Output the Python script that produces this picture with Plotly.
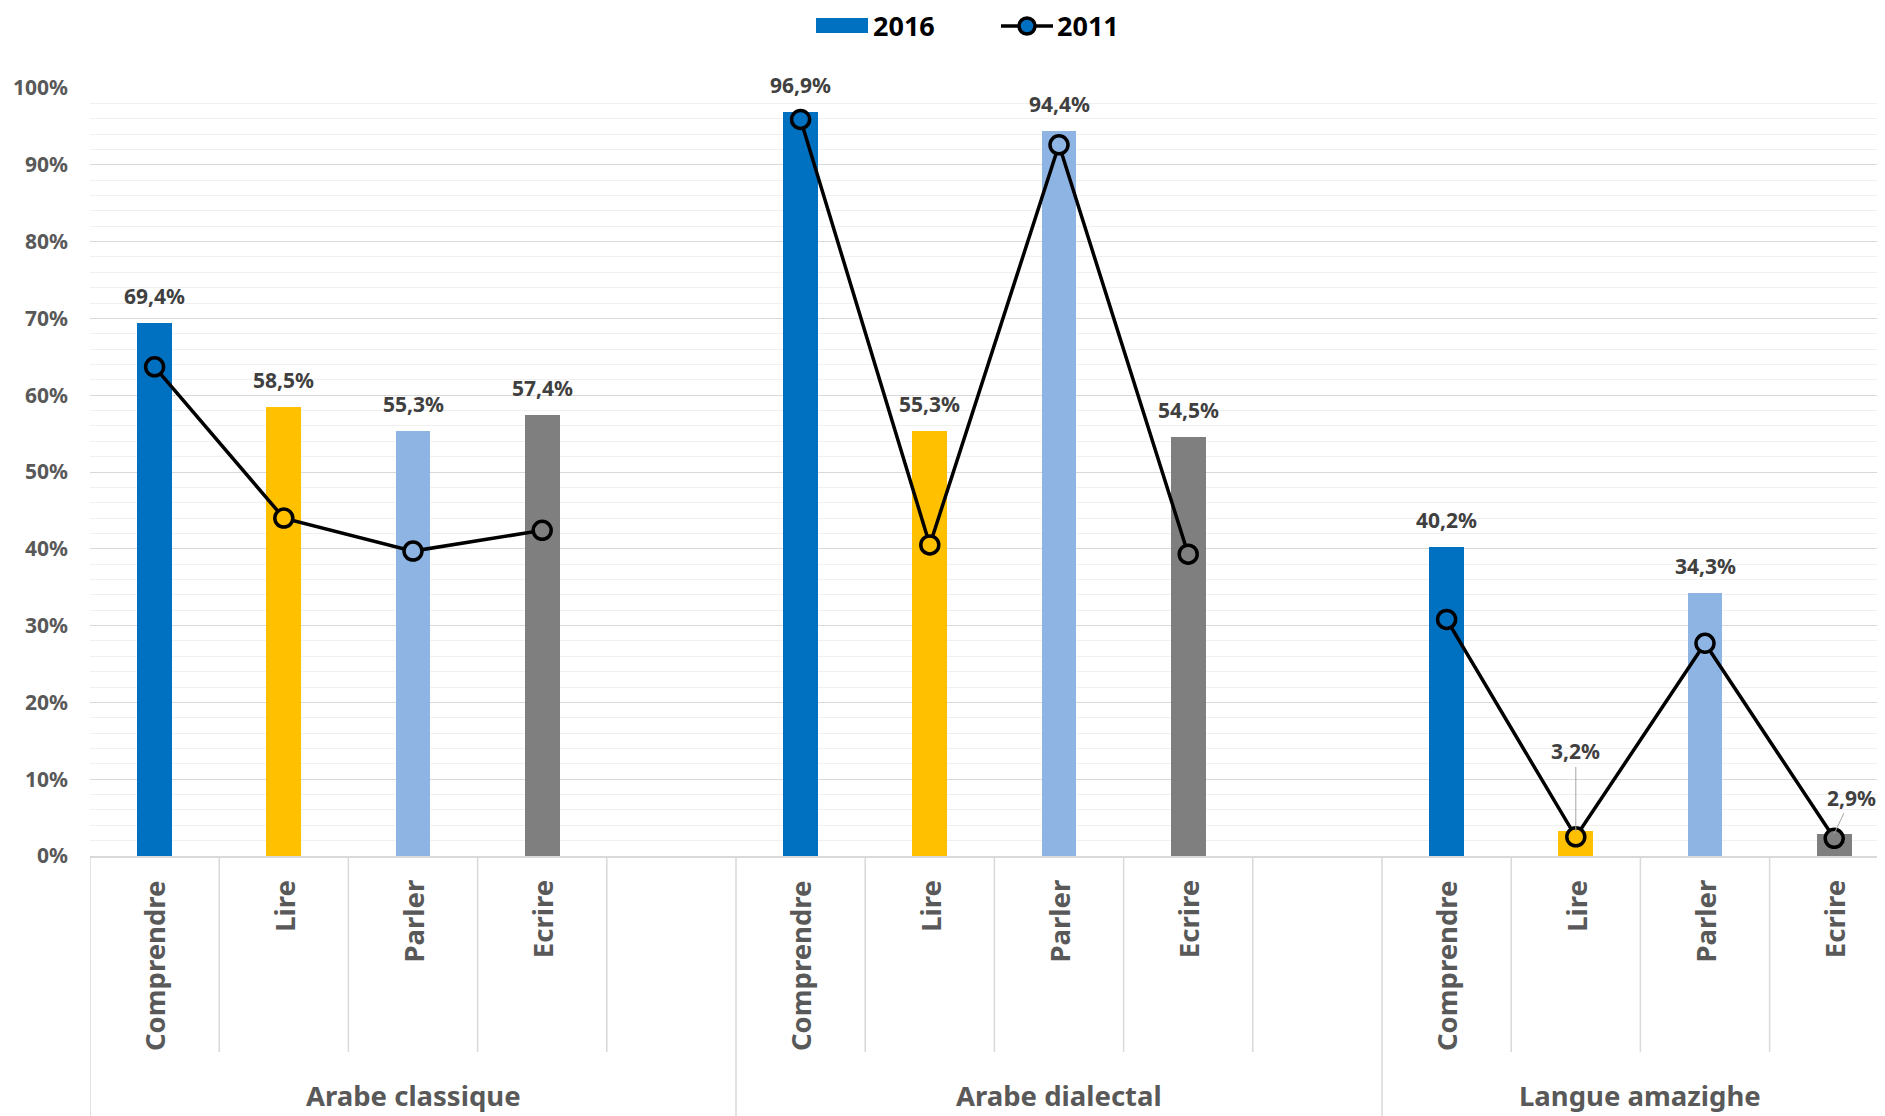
import plotly.graph_objects as go

# ---- data ----
groups = ["Arabe classique", "Arabe dialectal", "Langue amazighe"]
group_slots = [5, 5, 4]          # number of category slots per group (incl. empty slot)
skills = ["Comprendre", "Lire", "Parler", "Ecrire"]
skill_colors = ["#0070C0", "#FFC000", "#8EB4E3", "#7F7F7F"]

v2016_ac = [0.694, 0.585, 0.553, 0.574]
v2016_ad = [0.969, 0.553, 0.944, 0.545]
v2016_la = [0.402, 0.032, 0.343, 0.029]

v2011_ac = [0.637, 0.440, 0.397, 0.424]
v2011_ad = [0.959, 0.405, 0.926, 0.393]
v2011_la = [0.308, 0.025, 0.277, 0.023]

v2016 = [v2016_ac, v2016_ad, v2016_la]
v2011 = [v2011_ac, v2011_ad, v2011_la]

# ---- layout constants ----
OFF = 8                      # page body margin in the browser
W, H = 1885 - OFF, 1116 - OFF
ML, MR, MT, MB = 90 - OFF, 0, 88 - OFF, 260
PW, PH = W - ML - MR, H - MT - MB
SLOT_PX = 129.2
FONT = "Noto Sans"
AX_GRAY = "#595959"
LBL_GRAY = "#404040"
SEP = "#D9D9D9"


def py(pix):  # reference pixel y -> paper y
    return 1 + (MT - (pix - OFF)) / PH


def px(pix):  # reference pixel x -> paper x
    return ((pix - OFF) - ML) / PW


# slot positions
starts = []
s = 0
for n in group_slots:
    starts.append(s)
    s += n

bx, by, bc = [], [], []
lx, ly, lc = [], [], []
for g in range(len(groups)):
    for i, sk in enumerate(skills):
        xpos = starts[g] + i
        bx.append(xpos); by.append(v2016[g][i]); bc.append(skill_colors[i])
        lx.append(xpos); ly.append(v2011[g][i]); lc.append(skill_colors[i])
    lx.append(None); ly.append(None); lc.append(skill_colors[0])

fig = go.Figure()
fig.add_trace(go.Bar(x=bx, y=by, marker=dict(color=bc, line=dict(width=0)),
                     width=0.27, name="2016", showlegend=False))
fig.add_trace(go.Scatter(x=lx, y=ly, mode="lines+markers", name="2011",
                         connectgaps=False, showlegend=False,
                         line=dict(color="black", width=3.5),
                         marker=dict(size=18, color=lc, line=dict(color="black", width=3.5))))

LBL_SIZE = 21
CAT_SIZE = 27.5
annotations = []
# data labels
for x, v in zip(bx, by):
    txt = f"{v*100:.1f}".replace(".", ",") + "%"
    if v < 0.05:
        continue
    annotations.append(dict(x=x, y=v, xref="x", yref="y", text=txt, showarrow=False,
                            yanchor="middle", yshift=27,
                            font=dict(family=FONT, size=LBL_SIZE, color=LBL_GRAY, weight="bold")))
# small labels with leader lines
small = [(bx[i], by[i]) for i in range(len(by)) if by[i] < 0.05]
offsets = [(0, -80), (17, -36)]
for (x, v), (ax, ay) in zip(small, offsets):
    txt = f"{v*100:.1f}".replace(".", ",") + "%"
    annotations.append(dict(x=x, y=v, xref="x", yref="y", text=txt, showarrow=True,
                            arrowhead=0, arrowwidth=1, arrowcolor="#A6A6A6",
                            ax=ax, ay=ay, standoff=0,
                            font=dict(family=FONT, size=LBL_SIZE, color=LBL_GRAY, weight="bold")))

# category labels (rotated)
for g in range(len(groups)):
    for i, sk in enumerate(skills):
        annotations.append(dict(x=starts[g] + i, y=py(878), xref="x", yref="paper",
                                text=sk, textangle=-90, showarrow=False,
                                xanchor="center", yanchor="top",
                                font=dict(family=FONT, size=CAT_SIZE, color=AX_GRAY, weight="bold")))
    center = starts[g] + (group_slots[g] - 1) / 2
    annotations.append(dict(x=center, y=py(1095), xref="x", yref="paper",
                            text=groups[g], showarrow=False, xanchor="center", yanchor="middle",
                            font=dict(family=FONT, size=CAT_SIZE, color=AX_GRAY, weight="bold")))

# separators
shapes = []
for g in range(len(groups)):
    st, n = starts[g], group_slots[g]
    shapes.append(dict(type="line", xref="x", yref="paper", x0=st - 0.5, x1=st - 0.5,
                       y0=0, y1=py(1116), line=dict(color=SEP, width=1.5)))
    for k in range(1, n):
        shapes.append(dict(type="line", xref="x", yref="paper", x0=st + k - 0.5, x1=st + k - 0.5,
                           y0=0, y1=py(1052), line=dict(color=SEP, width=1.5)))

# manual legend
LEG_Y = 26
shapes.append(dict(type="rect", xref="paper", yref="paper", x0=px(816), x1=px(868),
                   y0=py(33), y1=py(18), fillcolor=skill_colors[0], line=dict(width=0)))
shapes.append(dict(type="line", xref="paper", yref="paper", x0=px(1001), x1=px(1053),
                   y0=py(LEG_Y), y1=py(LEG_Y), line=dict(color="black", width=3.5)))
shapes.append(dict(type="circle", xref="paper", yref="paper", xsizemode="pixel", ysizemode="pixel",
                   xanchor=px(1027), yanchor=py(LEG_Y), x0=-8, x1=8, y0=-8, y1=8,
                   fillcolor=skill_colors[0], line=dict(color="black", width=3.5)))
annotations.append(dict(x=px(872), y=py(LEG_Y), xref="paper", yref="paper", text="2016",
                        showarrow=False, xanchor="left", yanchor="middle", borderpad=0,
                        font=dict(family=FONT, size=27, color="black", weight="bold")))
annotations.append(dict(x=px(1056), y=py(LEG_Y), xref="paper", yref="paper", text="2011",
                        showarrow=False, xanchor="left", yanchor="middle", borderpad=0,
                        font=dict(family=FONT, size=27, color="black", weight="bold")))

fig.update_layout(
    width=W, height=H,
    margin=dict(l=ML, r=MR, t=MT, b=MB, pad=0),
    paper_bgcolor="white", plot_bgcolor="white",
    showlegend=False,
    annotations=annotations, shapes=shapes,
    xaxis=dict(range=[-0.5, -0.5 + PW / SLOT_PX], showticklabels=False, showgrid=False,
               zeroline=False, showline=True, linecolor=SEP, linewidth=1.5, ticks=""),
    yaxis=dict(range=[0, 1], dtick=0.1, tickformat=".0%", showgrid=True, gridcolor="#D9D9D9",
               gridwidth=1, zeroline=False, showline=False, ticks="", ticklabelstandoff=21,
               tickfont=dict(family=FONT, size=LBL_SIZE, color=AX_GRAY, weight="bold"),
               minor=dict(dtick=0.02, showgrid=True, gridcolor="#F0F0F0", gridwidth=1)),
    bargap=0,
)
fig.write_html("out.html")
